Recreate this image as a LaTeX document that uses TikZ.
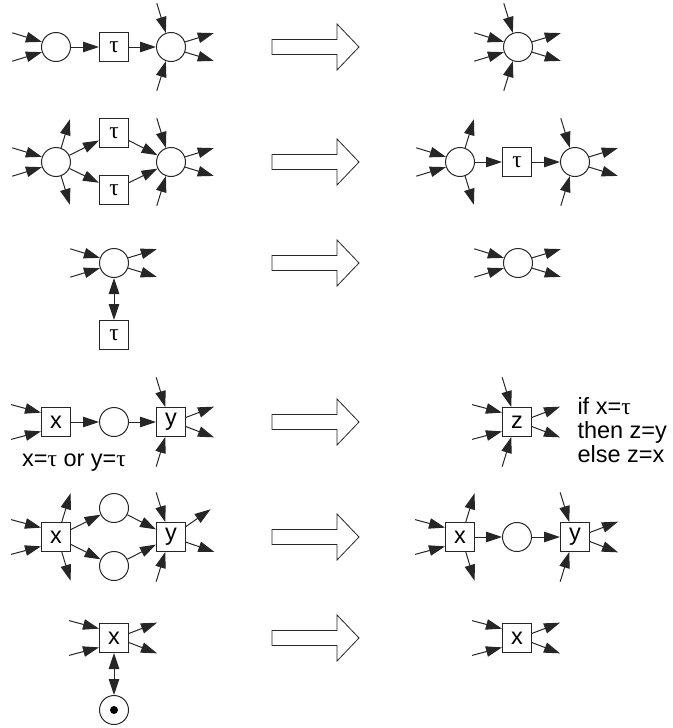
\documentclass[tikz,border=0pt]{standalone}
\usepackage{fontspec}
\setmainfont{Liberation Sans}
\newfontfamily\symfont{Liberation Serif}
\usetikzlibrary{arrows.meta}
\newcommand{\tauch}{{\symfont τ}}
% stub arcs with a free end: node, anchor angle, direction angle
\newcommand{\instub}[3]{\draw[arc] ([shift={(#3:31)}]#1.#2) -- (#1.#2);}
\newcommand{\outstub}[3]{\draw[arc] (#1.#2) -- ([shift={(#3:30)}]#1.#2);}
\tikzset{
	place/.style={circle, draw, minimum size=29pt, inner sep=0pt},
	trans/.style={rectangle, draw, minimum size=29pt, inner sep=0pt},
	arc/.style={-{Triangle[length=16pt,width=10.5pt]}},
	both/.style={{Triangle[length=16pt,width=10.5pt]}-{Triangle[length=16pt,width=10.5pt]}},
	hollow/.style={draw, fill=white, line width=0.8pt},
}

\begin{document}
\begin{tikzpicture}[x=1pt, y=1pt, line width=1pt, draw=black!85,
	every node/.style={font=\fontsize{23.5}{24}\selectfont}]
	\useasboundingbox (0,0) rectangle (672,-728);
	% left column
	\node[place] (p11) at (56,-47) {};
	\node[trans] (t11) at (114,-47) {\tauch};
	\node[place] (p12) at (171,-47) {};
	\node[place] (p21) at (56,-162) {};
	\node[trans] (t21) at (114,-133) {\tauch};
	\node[trans] (t22) at (114,-190) {\tauch};
	\node[place] (p22) at (171,-162) {};
	\node[place] (p31) at (114,-263) {};
	\node[trans] (t31) at (114,-335) {\tauch};
	\node[trans] (t41) at (56,-422) {x};
	\node[place] (p41) at (114,-422) {};
	\node[trans] (t42) at (171,-422) {y};
	\node[anchor=base] (cond) at (74,-466) {x=\tauch{} or y=\tauch};
	\node[trans] (t51) at (56,-537) {x};
	\node[place] (p51) at (114,-508) {};
	\node[place] (p52) at (114,-566) {};
	\node[trans] (t52) at (171,-537) {y};
	\node[trans] (t61) at (114,-638) {x};
	\node[place] (p61) at (114,-710) {};
	\fill (p61) circle (4);
	% right column
	\node[place] (q11) at (518,-47) {};
	\node[place] (q21) at (460,-162) {};
	\node[trans] (u21) at (517,-162) {\tauch};
	\node[place] (q22) at (575,-162) {};
	\node[place] (q31) at (518,-263) {};
	\node[trans] (u41) at (517,-422) {z};
	\node[anchor=north west, align=left, inner sep=0pt] (rule) at (577,-397)
		{if x=\tauch\\then z=y\\else z=x};
	\node[trans] (u51) at (460,-537) {x};
	\node[place] (q51) at (517,-537) {};
	\node[trans] (u52) at (575,-537) {y};
	\node[trans] (u61) at (517,-638) {x};
	% reduction arrows
	\foreach \y in {47,162,263,422,537,638}
		\draw[hollow] (272,7.5-\y) -- (337,7.5-\y) -- (337,23-\y) -- (359,-\y)
			-- (337,-23-\y) -- (337,-7.5-\y) -- (272,-7.5-\y) -- cycle;
	% arcs between nodes
	\path[arc] (p11) edge (t11)
		(t11) edge (p12)
		(p21) edge (t21) edge (t22)
		(t21) edge (p22)
		(t22) edge (p22)
		(t41) edge (p41)
		(p41) edge (t42)
		(t51) edge (p51) edge (p52)
		(p51) edge (t52)
		(p52) edge (t52)
		(q21) edge (u21)
		(u21) edge (q22)
		(u51) edge (q51)
		(q51) edge (u52);
	\draw[both] (p31) -- (t31);
	\draw[both] (t61) -- (p61);
	% stubs on places
	\foreach \n in {p11,p21,p31,q11,q21,q31}
		\foreach \a/\d in {160/163,200/197} {\instub{\n}{\a}{\d}}
	\foreach \n in {p12,p22,p31,q11,q22,q31}
		\foreach \a/\d in {20/17,340/343} {\outstub{\n}{\a}{\d}}
	\foreach \n in {p12,p22,q11,q22}
		\foreach \a/\d in {110/107,250/253} {\instub{\n}{\a}{\d}}
	\foreach \n in {p21,q21}
		\foreach \a/\d in {70/73,290/287} {\outstub{\n}{\a}{\d}}
	% stubs on transitions
	\foreach \n in {t41,t51,t61,u41,u51,u61}
		\foreach \a/\d in {148/165,212/195} {\instub{\n}{\a}{\d}}
	\foreach \n in {t42,t61,u41,u52,u61}
		\foreach \a/\d in {17/21,343/339} {\outstub{\n}{\a}{\d}}
	\foreach \a/\d in {35/35,341/341} {\outstub{t52}{\a}{\d}}
	\foreach \n in {t42,t52,u41,u52}
		\foreach \a/\d in {111/107,249/253} {\instub{\n}{\a}{\d}}
	\foreach \n in {t51,u51}
		\foreach \a/\d in {69/73,291/287} {\outstub{\n}{\a}{\d}}
\end{tikzpicture}
\end{document}
